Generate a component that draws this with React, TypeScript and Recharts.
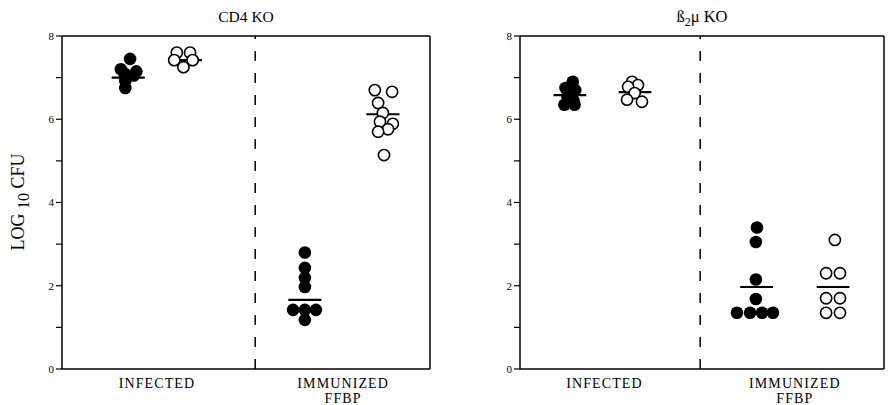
import { ScatterChart, Scatter, XAxis, YAxis, ReferenceLine } from 'recharts';

const FONT = '"Liberation Serif", "Times New Roman", serif';

// group centres / labels
const groupLabels = [['INFECTED'], ['IMMUNIZED', 'FFBP']];
const cd4LabelPos = [2.58, 7.64];
const b2mLabelPos = [2.32, 7.55];
const yTicks = [0, 1, 2, 3, 4, 5, 6, 7, 8];

// CD4 KO: [x, log10 CFU]
const cd4InfClosed = [[1.85, 7.45], [1.6, 7.2], [2.02, 7.15], [1.7, 7.1], [1.95, 7.05], [1.72, 6.92], [1.72, 6.75]];
const cd4InfOpen = [[3.12, 7.6], [3.48, 7.6], [3.05, 7.42], [3.55, 7.42], [3.3, 7.25]];
const cd4ImmClosed = [[6.6, 2.8], [6.6, 2.43], [6.6, 2.19], [6.6, 1.97], [6.28, 1.42], [6.6, 1.42], [6.9, 1.42], [6.6, 1.18]];
const cd4ImmOpen = [[8.5, 6.7], [8.97, 6.66], [8.59, 6.39], [8.72, 6.15], [8.64, 5.94], [8.99, 5.89], [8.86, 5.76], [8.59, 5.7], [8.75, 5.14]];
const cd4Means = [[1.8, 7.0], [3.35, 7.42], [6.6, 1.66], [8.72, 6.12]];

// ß2μ KO
const b2mInfClosed = [[1.45, 6.9], [1.25, 6.75], [1.52, 6.7], [1.3, 6.55], [1.47, 6.45], [1.22, 6.35], [1.5, 6.35]];
const b2mInfOpen = [[3.08, 6.9], [3.24, 6.82], [2.97, 6.78], [3.15, 6.63], [2.94, 6.47], [3.35, 6.42]];
const b2mImmClosed = [[6.51, 3.4], [6.48, 3.05], [6.48, 2.15], [6.48, 1.68], [5.96, 1.35], [6.32, 1.35], [6.65, 1.35], [6.95, 1.35]];
const b2mImmOpen = [[8.65, 3.1], [8.41, 2.3], [8.79, 2.3], [8.41, 1.7], [8.79, 1.7], [8.41, 1.35], [8.79, 1.35]];
const b2mMeans = [[1.37, 6.58], [3.16, 6.65], [6.5, 1.97], [8.6, 1.97]];

const toPts = (a: number[][]) => a.map(([x, y]) => ({ x, y }));

const Closed = (p: any) => <circle cx={p.cx} cy={p.cy} r={6.3} fill="#000" />;
const Open = (p: any) => <circle cx={p.cx} cy={p.cy} r={5.6} fill="#fff" stroke="#000" strokeWidth={1.6} />;

function XTick({ x, y, index }: any) {
  const lines = groupLabels[index] || [];
  return (
    <text x={x} y={y} textAnchor="middle" fontFamily={FONT} fontSize={14} letterSpacing={1.1} fill="#000">
      {lines.map((l, i) => (
        <tspan key={i} x={x} dy={i === 0 ? 11 : 15}>{l}</tspan>
      ))}
    </text>
  );
}

function YLabel() {
  return (
    <text transform="translate(24,202) rotate(-90)" textAnchor="middle" fontFamily={FONT} fontSize={18} fill="#000">
      LOG <tspan fontSize={16} dy={5}>10</tspan><tspan dy={-5}> CFU</tspan>
    </text>
  );
}

interface PanelProps {
  width: number;
  marginRight: number;
  labelPos: number[];
  divider: number;
  groups: number[][][];
  means: number[][];
  showYLabel?: boolean;
}

function Panel({ width, marginRight, labelPos, divider, groups, means, showYLabel }: PanelProps) {
  return (
    <ScatterChart width={width} height={405} margin={{ top: 36, right: marginRight, bottom: 0, left: 0 }}>
      <XAxis type="number" dataKey="x" domain={[0, 10]} ticks={labelPos} tickLine={false}
        axisLine={{ stroke: '#000', strokeWidth: 1.5 }} tick={<XTick />} height={36} interval={0} />
      <YAxis type="number" dataKey="y" domain={[0, 8]} ticks={yTicks} width={62}
        tickFormatter={(v) => (v % 2 === 0 ? String(v) : '')} tickSize={6} tickMargin={2}
        axisLine={{ stroke: '#000', strokeWidth: 1.5 }} tickLine={{ stroke: '#000', strokeWidth: 1.2 }}
        tick={{ fill: '#000', fontSize: 11, fontFamily: FONT }}
        label={showYLabel ? <YLabel /> : undefined} />
      <ReferenceLine y={8} stroke="#000" strokeWidth={1.5} />
      <ReferenceLine x={10} stroke="#000" strokeWidth={1.5} />
      <ReferenceLine x={divider} stroke="#000" strokeWidth={1.5} strokeDasharray="10 12" />
      <Scatter data={toPts(groups[0])} shape={Closed} isAnimationActive={false} />
      <Scatter data={toPts(groups[1])} shape={Open} isAnimationActive={false} />
      <Scatter data={toPts(groups[2])} shape={Closed} isAnimationActive={false} />
      <Scatter data={toPts(groups[3])} shape={Open} isAnimationActive={false} />
      {means.map(([x, y], i) => (
        <ReferenceLine key={i} segment={[{ x: x - 0.45, y }, { x: x + 0.45, y }]} stroke="#000" strokeWidth={2.2} />
      ))}
    </ScatterChart>
  );
}

export default function App() {
  return (
    <div style={{ position: 'absolute', left: 0, top: 0, width: 888, height: 405, background: '#fff', fontFamily: FONT }}>
      <div style={{ position: 'absolute', left: 0, top: 0 }}>
        <Panel width={440} marginRight={10} labelPos={cd4LabelPos} divider={5.25}
          groups={[cd4InfClosed, cd4InfOpen, cd4ImmClosed, cd4ImmOpen]} means={cd4Means} showYLabel />
      </div>
      <div style={{ position: 'absolute', left: 458, top: 0 }}>
        <Panel width={430} marginRight={4} labelPos={b2mLabelPos} divider={4.95}
          groups={[b2mInfClosed, b2mInfOpen, b2mImmClosed, b2mImmOpen]} means={b2mMeans} />
      </div>
      <div style={{ position: 'absolute', left: 146, width: 200, top: 8, textAlign: 'center', fontSize: 15.5 }}>CD4 KO</div>
      <div style={{ position: 'absolute', left: 602, width: 200, top: 7, textAlign: 'center', fontSize: 16.5 }}>
        ß<sub style={{ fontSize: 12 }}>2</sub>μ KO
      </div>
    </div>
  );
}
